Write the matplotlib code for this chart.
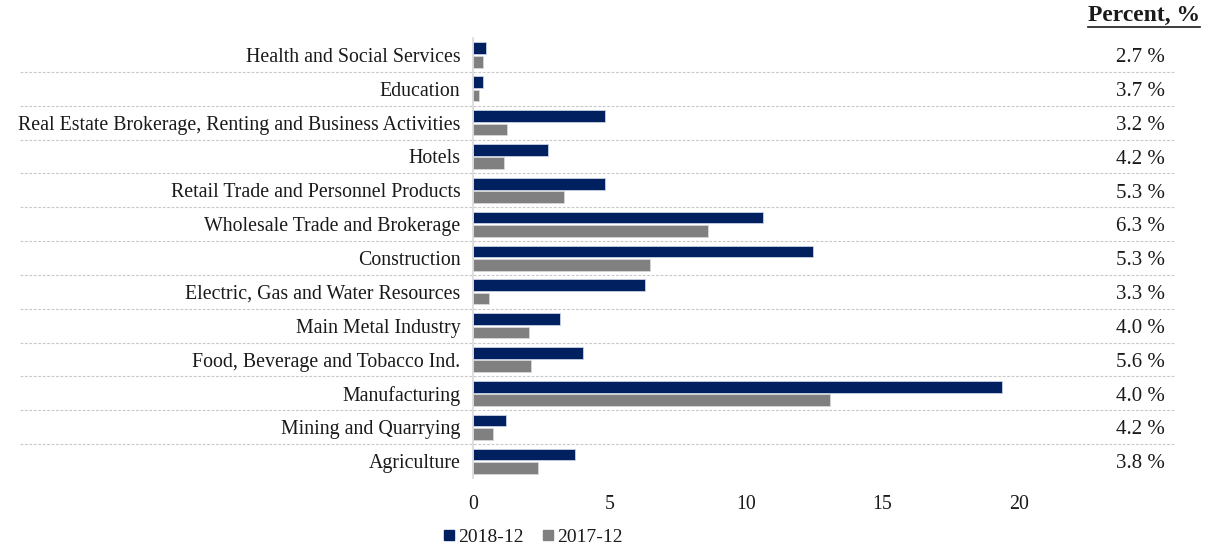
import matplotlib
matplotlib.use("Agg")
from matplotlib import pyplot as plt
from matplotlib.lines import Line2D
from matplotlib.transforms import blended_transform_factory

# top to bottom as in the picture
sectors = [
    "Health and Social Services",
    "Education",
    "Real Estate Brokerage, Renting and Business Activities",
    "Hotels",
    "Retail Trade and Personnel Products",
    "Wholesale Trade and Brokerage",
    "Construction",
    "Electric, Gas and Water Resources",
    "Main Metal Industry",
    "Food, Beverage and Tobacco Ind.",
    "Manufacturing",
    "Mining and Quarrying",
    "Agriculture",
]
dec_2018 = [0.48, 0.35, 4.82, 2.74, 4.85, 10.64, 12.45, 6.31, 3.19, 4.04, 19.4, 1.2, 3.72]
dec_2017 = [0.35, 0.21, 1.25, 1.15, 3.33, 8.6, 6.49, 0.58, 2.05, 2.11, 13.07, 0.75, 2.38]
percent = ["2.7", "3.7", "3.2", "4.2", "5.3", "6.3", "5.3", "3.3", "4.0", "5.6", "4.0", "4.2", "3.8"]

navy = "#002060"
grey = "#808080"
txt = "#1a1a1a"

plt.rcParams["font.family"] = ["Liberation Serif", "DejaVu Serif"]

fig = plt.figure(figsize=(12.05, 5.5), dpi=100)
ax = fig.add_axes([473 / 1205, 1 - 478 / 550, (1046 - 473) / 1205, 440 / 550])

n = len(sectors)
ypos = [n - 1 - i for i in range(n)]

ax.barh([y + 0.195 for y in ypos], dec_2018, height=0.345, color=navy,
        edgecolor="#c9d1e3", linewidth=0.6)
ax.barh([y - 0.2 for y in ypos], dec_2017, height=0.345, color=grey,
        edgecolor="#d8d8d8", linewidth=0.6)

ax.set_xlim(0, 21)
ax.set_ylim(-0.5, n - 0.5)
ax.set_xticks([0, 5, 10, 15, 20])
ax.set_yticks(ypos)
ax.set_yticklabels(sectors)
ax.tick_params(axis="both", length=0, labelsize=14.3, labelcolor=txt)
ax.tick_params(axis="y", pad=9)
ax.tick_params(axis="x", pad=12)

for s in ["top", "right", "bottom"]:
    ax.spines[s].set_visible(False)
ax.spines["left"].set_color("#d9d9d9")
ax.spines["left"].set_linewidth(1.2)

# dashed row separators across the whole figure width
trans = blended_transform_factory(fig.transFigure, ax.transData)
for k in range(n - 1):
    ax.plot([20 / 1205, 1175 / 1205], [k + 0.5, k + 0.5], transform=trans,
            color="#c8c8c8", linestyle=(0, (2.5, 1.5)), linewidth=0.8, clip_on=False)

# percent column
for y, p in zip(ypos, percent):
    ax.text(1140 / 1205, y - 0.08, p + " %", transform=trans, ha="center",
            va="center", fontsize=15, color=txt)

head = fig.text(1200 / 1205, 1 - 15 / 550, "Percent, %", ha="right", va="center",
                fontsize=17, fontweight="bold", color=txt)
fig.canvas.draw()
bb = head.get_window_extent()
fig.add_artist(Line2D([bb.x0 / 1205, bb.x1 / 1205], [(bb.y0 - 1) / 550, (bb.y0 - 1) / 550],
                      transform=fig.transFigure, color=txt, linewidth=1.2))

handles = [
    Line2D([], [], marker="s", linestyle="none", color=navy, markersize=7, label="2018-12"),
    Line2D([], [], marker="s", linestyle="none", color=grey, markersize=7, label="2017-12"),
]
fig.legend(handles=handles, loc="center", bbox_to_anchor=(531 / 1205, 1 - 537 / 550),
           ncol=2, frameon=False, fontsize=14, handletextpad=0.0, columnspacing=0.7,
           handlelength=1.0, labelcolor=txt)

fig.savefig("out.png", dpi=100)
